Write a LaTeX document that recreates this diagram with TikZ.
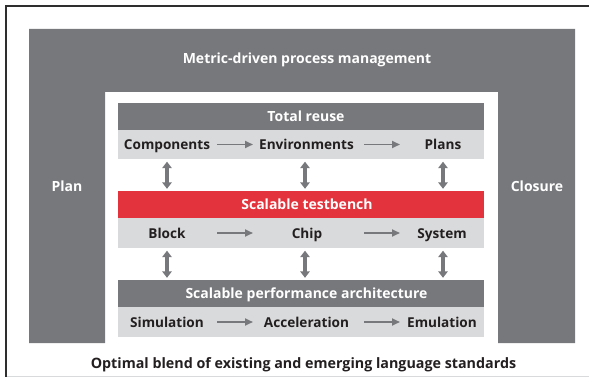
\documentclass[tikz,border=0pt]{standalone}
\usepackage{fontspec}
\setmainfont{Open Sans}
\usetikzlibrary{arrows.meta}
\definecolor{pgray}{HTML}{77787B}
\definecolor{plight}{HTML}{D9DADB}
\definecolor{pred}{HTML}{E3343E}
\definecolor{pink}{HTML}{231F20}
\definecolor{pframe}{HTML}{2E2E2E}
\tikzset{
  lbl/.style={inner sep=0pt, text height=10pt, text depth=0pt,
    font=\bfseries\fontsize{13.6}{16}\selectfont},
  biglbl/.style={lbl, font=\bfseries\fontsize{14}{17}\selectfont},
  whitelbl/.style={lbl, text=white},
  darklbl/.style={lbl, text=pink},
  bar/.style={inner sep=0pt, minimum width=366pt, minimum height=27pt},
  rowbar/.style={bar, fill=plight, minimum height=29pt},
  harr/.style={draw=pgray, line width=1.9pt, -{Triangle[length=8pt,width=7pt]}},
  varr/.style={draw=pgray, line width=3.2pt,
    {Triangle[length=6.5pt,width=9.5pt]}-{Triangle[length=6.5pt,width=9.5pt]}}
}
\begin{document}
\begin{tikzpicture}[x=1pt,y=-1pt]
\useasboundingbox (0,0) rectangle (589,377);
% page frame
\draw[pframe, line width=1.4pt] (6,6) -- (589,6);
\draw[pframe, line width=2pt] (6,377) -- (6,5.3);
\draw[plight, line width=0.8pt] (7,376) -- (589,376);

% process management frame
\fill[pgray] (29,29) -- (575,29) -- (575,343) -- (498,343) -- (498,92)
  -- (105,92) -- (105,343) -- (29,343) -- cycle;
\node[whitelbl, biglbl] (metric) at (307,59) {Metric-driven process management};
\node[whitelbl, biglbl] (plan) at (67,186) {Plan};
\node[whitelbl, biglbl] (closure) at (537,186) {Closure};

% Total reuse
\node[bar, fill=pgray] (reusebar) at (301,116.5) {};
\node[whitelbl, biglbl] (reuse) at (306,116.5) {Total reuse};
\node[rowbar] (row1) at (301,144.5) {};
\node[darklbl] (comp) at (167,144.5) {Components};
\node[darklbl] (env) at (306.5,144.5) {Environments};
\node[darklbl] (plans) at (443,144.5) {Plans};

% Scalable testbench
\node[bar, fill=pred] (tbbar) at (301,204.5) {};
\node[whitelbl, biglbl] (tb) at (307,204.5) {Scalable testbench};
\node[rowbar, minimum height=30pt] (row2) at (301,233) {};
\node[darklbl] (block) at (167,233) {Block};
\node[darklbl] (chip) at (307,233) {Chip};
\node[darklbl] (system) at (442,233) {System};

% Scalable performance architecture
\node[bar, fill=pgray] (perfbar) at (301,293.5) {};
\node[whitelbl, biglbl] (perf) at (306.5,293.5) {Scalable performance architecture};
\node[rowbar, minimum height=30pt] (row3) at (301,322) {};
\node[darklbl] (sim) at (167,322) {Simulation};
\node[darklbl] (acc) at (306.5,322) {Acceleration};
\node[darklbl] (emu) at (442,322) {Emulation};

% language standards
\node[darklbl, font=\bfseries\fontsize{14.3}{17}\selectfont] (blend) at (303.5,363)
  {Optimal blend of existing and emerging language standards};

% flow arrows within rows
\foreach \r/\y in {1/144.5, 2/233, 3/322} {
  \coordinate (a\r) at (217,\y);
  \coordinate (b\r) at (253,\y);
  \coordinate (c\r) at (364,\y);
  \coordinate (d\r) at (400,\y);
  \draw[harr] (a\r) -- (b\r);
  \draw[harr] (c\r) -- (d\r);
}

% links between levels
\foreach \x in {167,305,443} {
  \draw[varr] ([yshift=-2.5pt]row1.south -| \x,0) -- ([yshift=2pt]tbbar.north -| \x,0);
  \draw[varr] ([yshift=-2.5pt]row2.south -| \x,0) -- ([yshift=2pt]perfbar.north -| \x,0);
}
\end{tikzpicture}
\end{document}
